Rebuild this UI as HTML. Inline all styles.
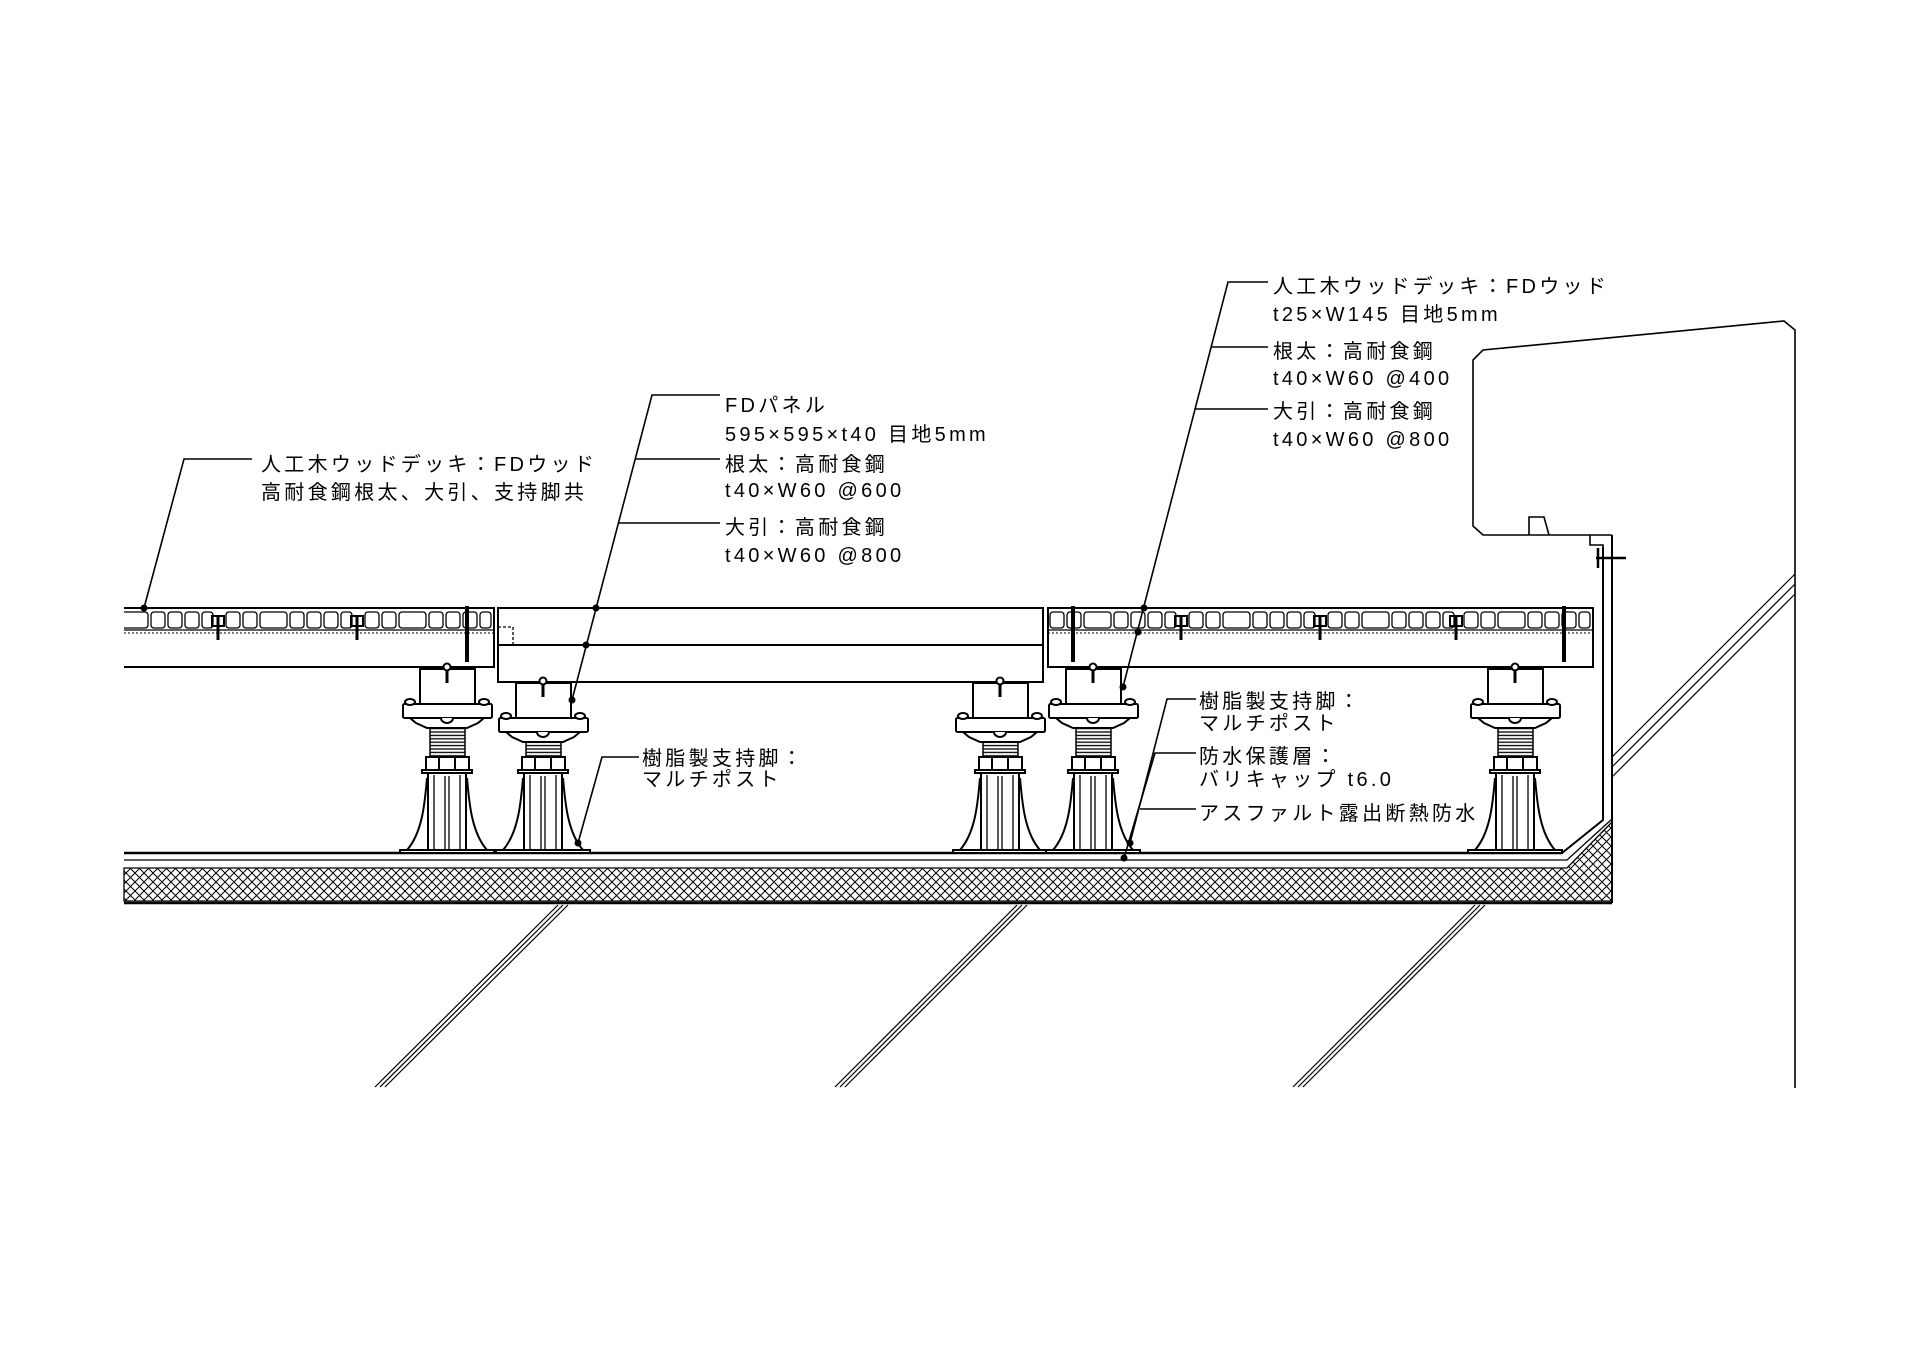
<!DOCTYPE html>
<html><head><meta charset="utf-8"><style>
html,body{margin:0;padding:0;background:#fff}
svg{display:block}
text{font-family:"Liberation Sans","Noto Sans CJK JP",sans-serif;font-size:20px;letter-spacing:3.3px;fill:#000}
</style></head><body>
<svg width="1920" height="1358" viewBox="0 0 1920 1358" xmlns="http://www.w3.org/2000/svg">
<defs>
<pattern id="hatch" width="9" height="9" patternUnits="userSpaceOnUse">
<path d="M0 0L9 9M9 0L0 9" stroke="#000" stroke-width="1"/>
</pattern>
<pattern id="thr" width="10" height="3.4" patternUnits="userSpaceOnUse">
<line x1="0" y1="1" x2="10" y2="1" stroke="#000" stroke-width="1.3"/>
</pattern>
<symbol id="plank" overflow="visible">
<g fill="none" stroke="#000" stroke-width="1.3">
<rect x="8" y="612" width="14" height="16" rx="3"/>
<rect x="25" y="612" width="14" height="16" rx="3"/>
<rect x="42" y="612" width="27" height="16" rx="3"/>
<rect x="72" y="612" width="14" height="16" rx="3"/>
<rect x="89" y="612" width="14" height="16" rx="3"/>
<rect x="106" y="612" width="14" height="16" rx="3"/>
<rect x="123" y="612" width="11" height="16" rx="3"/>
<path d="M-6 616h12v10h-12z" stroke-width="2"/>
</g>
<line x1="0" y1="616" x2="0" y2="660" stroke="#000" stroke-width="3"/>
</symbol>
<symbol id="head" overflow="visible">
<g fill="#fff" stroke="#000" stroke-width="2">
<rect x="-27" y="0" width="55" height="35"/>
<path d="M-37 49H37L31 54L20 59H-20L-31 54Z"/>
<rect x="-44" y="35" width="89" height="14" rx="1.5"/>
<ellipse cx="-37" cy="33" rx="5" ry="3"/>
<ellipse cx="37" cy="33" rx="5" ry="3"/>
<path d="M-6 49a6 5 0 0 0 12 0"/>
<circle cx="0" cy="-2" r="3.5"/>
</g>
<line x1="0" y1="1" x2="0" y2="14" stroke="#000" stroke-width="3"/>
</symbol>
<symbol id="lower" overflow="visible">
<g fill="none" stroke="#000" stroke-width="2">
<rect x="-21" y="757" width="43" height="13" fill="#fff"/>
<line x1="-8" y1="757" x2="-8" y2="770"/><line x1="8" y1="757" x2="8" y2="770"/>
<rect x="-25" y="770" width="50" height="3" fill="#fff"/>
<line x1="-19" y1="773" x2="-19" y2="850"/><line x1="19" y1="773" x2="19" y2="850"/>
<line x1="-13" y1="775" x2="-13" y2="850" stroke-width="1.3"/><line x1="13" y1="775" x2="13" y2="850" stroke-width="1.3"/>
<line x1="-2" y1="776" x2="-2" y2="850" stroke-width="1.3"/><line x1="2" y1="776" x2="2" y2="850" stroke-width="1.3"/>
<path d="M-20 778C-22 800-24 832-40 850"/>
<path d="M20 778C22 800 24 832 40 850"/>
<rect x="-47" y="850" width="94" height="3" fill="#fff"/>
</g>
</symbol>
<clipPath id="cL"><rect x="124" y="600" width="370" height="40"/></clipPath>
<clipPath id="cR"><rect x="1048" y="600" width="545" height="40"/></clipPath>
</defs>

<g fill="none" stroke="#000">
<!-- slab diagonals -->
<g stroke-width="1.2">
<path d="M558 905L375 1087M563 905L380 1087M568 905L385 1087"/>
<path d="M1017 905L835 1087M1022 905L840 1087M1027 905L845 1087"/>
<path d="M1475 905L1293 1087M1480 905L1298 1087M1485 905L1303 1087"/>
<path d="M1612 757L1795 574M1612 767L1795 584M1612 777L1795 594"/>
</g>
<!-- parapet -->
<path d="M1590 535H1483L1473 526V360L1483 350L1784 321L1795 330V1088" stroke-width="1.6"/>
<path d="M1529 535V517H1544L1549 535" stroke-width="1.6"/>
<path d="M1590 535V545H1603V547M1590 535H1612" stroke-width="1.6"/>
<path d="M1598 548V568M1596 558H1626" stroke-width="2.5"/>
<!-- wall -->
<path d="M1603 547V820L1562 853" stroke-width="2"/>
<path d="M1612 535V903" stroke-width="2"/>
<!-- floor lines -->
<path d="M124 853H1562" stroke-width="2.5"/>
<path d="M124 860H1567L1612 819" stroke-width="1.3"/>
</g>
<!-- hatch band -->
<path d="M124 868H1567L1612 822V901H124Z" fill="url(#hatch)" stroke="#000" stroke-width="1.3"/>
<path d="M124 903H1612" stroke="#000" stroke-width="2.5"/>

<!-- left deck -->
<g clip-path="url(#cL)">
<use href="#plank" x="79"/><use href="#plank" x="218"/><use href="#plank" x="357"/>
</g>
<g fill="none" stroke="#000" stroke-width="2">
<path d="M124 608H494V667H124"/>
<path d="M124 630H494" stroke-width="1.3"/>
<path d="M124 633H494" stroke-width="1" stroke-dasharray="2 2"/>
</g>
<line x1="467" y1="606" x2="467" y2="662" stroke="#000" stroke-width="4"/>

<!-- panel -->
<g fill="none" stroke="#000" stroke-width="2">
<rect x="498" y="608" width="545" height="74"/>
<line x1="498" y1="645" x2="1043" y2="645"/>
<path d="M498 627H513V645" stroke-width="1.3" stroke-dasharray="3 2"/>
</g>

<!-- right deck -->
<g clip-path="url(#cR)">
<use href="#plank" x="1042"/><use href="#plank" x="1181"/><use href="#plank" x="1320"/><use href="#plank" x="1456"/>
</g>
<g fill="none" stroke="#000" stroke-width="2">
<rect x="1048" y="608" width="545" height="59"/>
<path d="M1048 630H1593" stroke-width="1.3"/>
<path d="M1048 633H1593" stroke-width="1" stroke-dasharray="2 2"/>
</g>
<line x1="1073" y1="606" x2="1073" y2="662" stroke="#000" stroke-width="4"/>
<line x1="1564" y1="606" x2="1564" y2="662" stroke="#000" stroke-width="4"/>

<!-- posts -->
<g>
<rect x="430" y="727" width="35" height="30" fill="url(#thr)" stroke="#000" stroke-width="1.5"/>
<use href="#lower" x="447"/><use href="#head" x="447" y="669"/>
<rect x="526" y="741" width="35" height="16" fill="url(#thr)" stroke="#000" stroke-width="1.5"/>
<use href="#lower" x="543"/><use href="#head" x="543" y="683"/>
<rect x="983" y="741" width="35" height="16" fill="url(#thr)" stroke="#000" stroke-width="1.5"/>
<use href="#lower" x="1000"/><use href="#head" x="1000" y="683"/>
<rect x="1076" y="727" width="35" height="30" fill="url(#thr)" stroke="#000" stroke-width="1.5"/>
<use href="#lower" x="1093"/><use href="#head" x="1093" y="669"/>
<rect x="1498" y="727" width="35" height="30" fill="url(#thr)" stroke="#000" stroke-width="1.5"/>
<use href="#lower" x="1515"/><use href="#head" x="1515" y="669"/>
</g>

<!-- leaders -->
<g fill="none" stroke="#000" stroke-width="1.6">
<path d="M252 459H184L144 608"/>
<path d="M720 395H652L572 700M635 459H720M618 523H720"/>
<path d="M1268 282H1228L1123 687M1211 347H1268M1195 409H1268"/>
<path d="M639 757H602L578 843"/>
<path d="M1196 699H1167L1130 843"/>
<path d="M1196 753H1155L1124 858M1140 809H1196"/>
</g>
<g fill="#000">
<circle cx="144" cy="608" r="3.5"/>
<circle cx="596" cy="608" r="3.5"/><circle cx="586" cy="645" r="3.5"/><circle cx="572" cy="700" r="3.5"/>
<circle cx="1144" cy="608" r="3.5"/><circle cx="1138" cy="632" r="3.5"/><circle cx="1123" cy="687" r="3.5"/>
<circle cx="578" cy="843" r="3.5"/><circle cx="1130" cy="843" r="3.5"/><circle cx="1124" cy="858" r="3.5"/>
</g>

<!-- texts -->
<text x="261" y="471">人工木ウッドデッキ：FDウッド</text>
<text x="261" y="499">高耐食鋼根太、大引、支持脚共</text>

<text x="725" y="412">FDパネル</text>
<text x="725" y="441">595×595×t40 目地5mm</text>
<text x="725" y="471">根太：高耐食鋼</text>
<text x="725" y="497">t40×W60  @600</text>
<text x="725" y="534">大引：高耐食鋼</text>
<text x="725" y="562">t40×W60  @800</text>

<text x="1273" y="293">人工木ウッドデッキ：FDウッド</text>
<text x="1273" y="321">t25×W145  目地5mm</text>
<text x="1273" y="358">根太：高耐食鋼</text>
<text x="1273" y="385">t40×W60  @400</text>
<text x="1273" y="418">大引：高耐食鋼</text>
<text x="1273" y="446">t40×W60  @800</text>

<text x="642" y="765">樹脂製支持脚：</text>
<text x="642" y="786">マルチポスト</text>

<text x="1199" y="708">樹脂製支持脚：</text>
<text x="1199" y="730">マルチポスト</text>
<text x="1199" y="763">防水保護層：</text>
<text x="1199" y="786">バリキャップ t6.0</text>
<text x="1199" y="820">アスファルト露出断熱防水</text>
</svg>
</body></html>
